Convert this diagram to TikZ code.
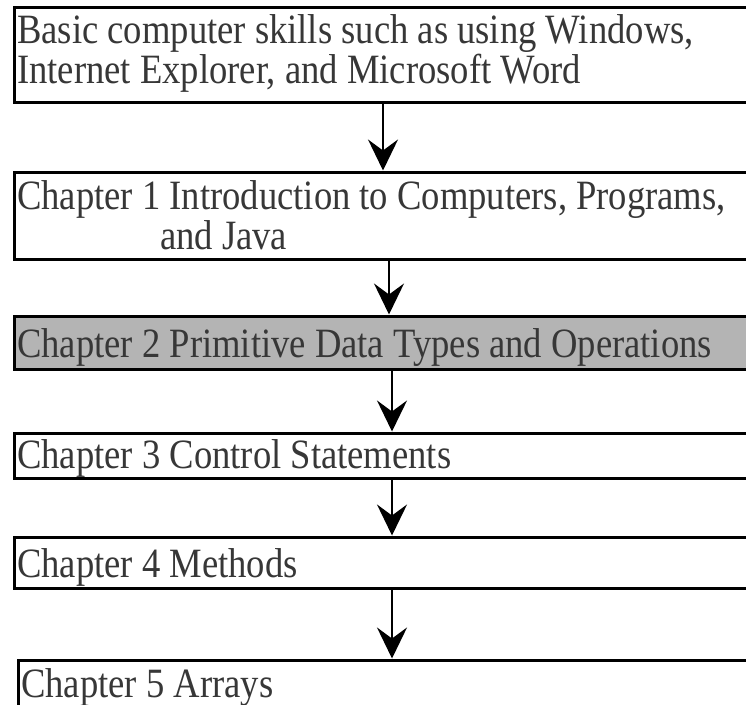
\documentclass[tikz,border=0pt]{standalone}
\usepackage{fontspec}
\setmainfont{Liberation Serif}
\usetikzlibrary{arrows.meta}
\definecolor{txt}{RGB}{55,55,55}
\definecolor{boxgray}{RGB}{180,180,180}
\newcommand{\tallt}[1]{\scalebox{1}[1.14]{#1}}
\tikzset{
  chbox/.style={draw=black, line width=3pt, fill=white, rectangle, inner sep=0pt, minimum width=760pt},
  chtext/.style={anchor=base west, inner sep=0pt, text=txt, font=\fontsize{36.6}{40}\selectfont},
  flow/.style={draw=black, line width=2pt, -{Stealth[length=31pt,width=30pt,inset=11pt]}}
}
\begin{document}
\begin{tikzpicture}[x=1pt,y=-1pt]
\useasboundingbox (0,0) rectangle (746,704);
\clip (0,0) rectangle (746,704);
% boxes
\node[chbox, minimum height=95pt] (b1) at (394,54.5) {};
\node[chbox, minimum height=87pt] (b2) at (394,215.5) {};
\node[chbox, minimum height=53pt, fill=boxgray] (b3) at (394,342.5) {};
\node[chbox, minimum height=45pt] (b4) at (394,455.5) {};
\node[chbox, minimum height=51pt] (b5) at (394,562.5) {};
\node[chbox, minimum height=70pt] (b6) at (398,695) {};
% texts
\node[chtext] (t1a) at (17,43) {\tallt{Basic computer skills such as using Windows,}};
\node[chtext] (t1b) at (17,83) {\tallt{Internet Explorer, and Microsoft Word}};
\node[chtext] (t2a) at (17,209) {\tallt{Chapter 1 Introduction to Computers, Programs,}};
\node[chtext] (t2b) at (160,249) {\tallt{and Java}};
\node[chtext] (t3) at (17,357) {\tallt{Chapter 2 Primitive Data Types and Operations}};
\node[chtext] (t4) at (17,468) {\tallt{Chapter 3 Control Statements}};
\node[chtext] (t5) at (17,577) {\tallt{Chapter 4 Methods}};
\node[chtext] (t6) at (21,697) {\tallt{Chapter 5 Arrays}};
% arrows
\draw[flow] ([xshift=-11pt]b1.south) -- ([xshift=-11pt]b2.north);
\draw[flow] ([xshift=-5pt]b2.south) -- ([xshift=-5pt]b3.north);
\draw[flow] ([xshift=-2pt]b3.south) -- ([xshift=-2pt]b4.north);
\draw[flow] ([xshift=-2pt]b4.south) -- ([xshift=-2pt]b5.north);
\draw[flow] ([xshift=-2pt]b5.south) -- ([xshift=-6pt]b6.north);
\end{tikzpicture}
\end{document}
